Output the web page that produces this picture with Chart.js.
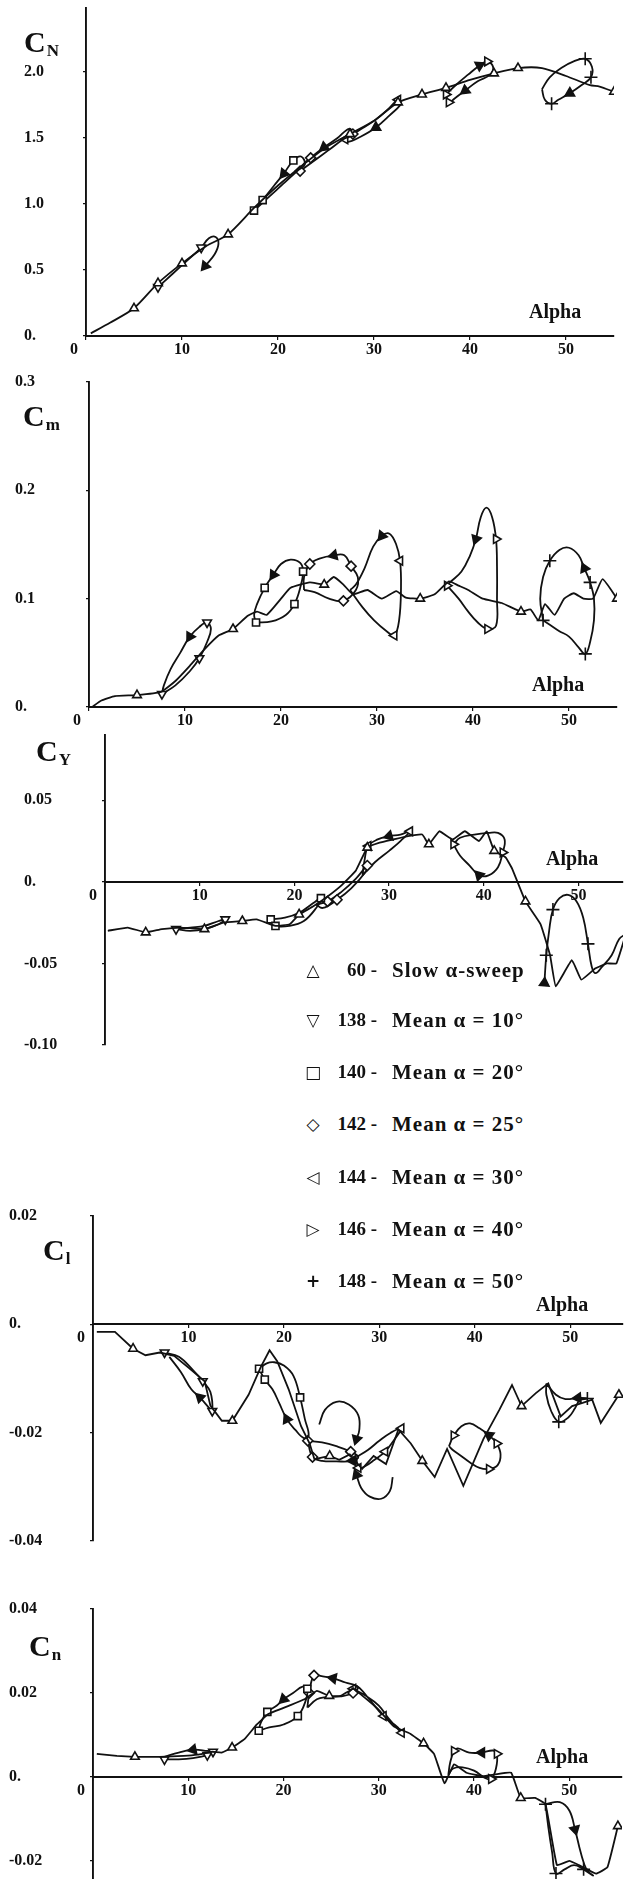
<!DOCTYPE html>
<html><head><meta charset="utf-8">
<script src="https://cdn.jsdelivr.net/npm/chart.js@4.4.1/dist/chart.umd.min.js"></script>
<style>
html,body{margin:0;padding:0;background:#fff;}
body{width:630px;height:1879px;position:relative;overflow:hidden;font-family:'Liberation Serif','Times New Roman',serif;color:#111;}
canvas{position:absolute;left:0;}
.t{position:absolute;font-weight:bold;line-height:1;white-space:nowrap;}
.coef{font-size:30px;}
.coef span{font-size:17px;position:relative;top:4px;margin-left:1px;}
.alpha{font-size:20px;}
.leg{position:absolute;left:0;width:630px;height:24px;line-height:24px;font-weight:bold;font-size:19px;white-space:nowrap;}
.leg .sym{position:absolute;left:300px;width:26px;text-align:center;font-family:'DejaVu Sans';font-size:17px;}
.leg .num{position:absolute;left:320px;width:57px;text-align:right;}
.leg .txt{position:absolute;left:392px;letter-spacing:1px;font-size:21px;}
</style></head>
<body>
<canvas id="p1"></canvas><canvas id="p2"></canvas><canvas id="p3"></canvas><canvas id="p4"></canvas><canvas id="p5"></canvas>

<div class="t coef" style="left:24px;top:27px">C<span>N</span></div>
<div class="t coef" style="left:23px;top:401px">C<span>m</span></div>
<div class="t coef" style="left:36px;top:736px">C<span>Y</span></div>
<div class="t coef" style="left:43px;top:1235px">C<span>l</span></div>
<div class="t coef" style="left:29px;top:1631px">C<span>n</span></div>

<div class="t alpha" style="left:529px;top:301px">Alpha</div>
<div class="t alpha" style="left:532px;top:674px">Alpha</div>
<div class="t alpha" style="left:546px;top:848px">Alpha</div>
<div class="t alpha" style="left:536px;top:1294px">Alpha</div>
<div class="t alpha" style="left:536px;top:1746px">Alpha</div>

<div id="legend"></div>

<script>
// ---------------- tick values and labels ----------------
const ALPHA_TICKS  = [0, 10, 20, 30, 40, 50];
const ALPHA_LABELS = ['0', '10', '20', '30', '40', '50'];

const NORMAL_YTICKS = [0, 0.5, 1.0, 1.5, 2.0];
const NORMAL_YLABELS = ['0.', '0.5', '1.0', '1.5', '2.0'];
const PITCH_YTICKS = [0, 0.1, 0.2, 0.3];
const PITCH_YLABELS = ['0.', '0.1', '0.2', '0.3'];
const SIDE_YTICKS = [-0.10, -0.05, 0, 0.05];
const SIDE_YLABELS = ['-0.10', '-0.05', '0.', '0.05'];
const ROLL_YTICKS = [-0.04, -0.02, 0, 0.02];
const ROLL_YLABELS = ['-0.04', '-0.02', '0.', '0.02'];
const YAW_YTICKS = [-0.02, 0, 0.02, 0.04];
const YAW_YLABELS = ['-0.02', '0.', '0.02', '0.04'];

// ---------------- legend ----------------
const RUNS = ['60', '138', '140', '142', '144', '146', '148'];
const RUN_TEXT = ['Slow α-sweep', 'Mean α = 10°', 'Mean α = 20°', 'Mean α = 25°', 'Mean α = 30°', 'Mean α = 40°', 'Mean α = 50°'];

// ---------------- C_N (normal force) [alpha, value] ----------------
const NORMAL_60 = [[0.5,0.02],[2.5,0.1],[5,0.21],[7.5,0.4],[10,0.55],[12.5,0.68],[14.8,0.77],[17.5,0.97],[20,1.14],[22.5,1.29],[25,1.43],[27.5,1.53],[30,1.63],[32.5,1.77],[35,1.83],[37.5,1.88],[40,1.94],[42.5,1.99],[45,2.03],[47.5,2.03],[50,1.97],[52.5,1.9],[53.5,1.89],[55,1.85]];
const NORMAL_60_MARKS = [2,3,4,6,11,13,14,15,17,18,23];
const NORMAL_138 = [[7.5,0.37],[9,0.47],[10.5,0.57],[12,0.67],[12.8,0.74],[13.5,0.75],[13.8,0.7],[13.4,0.62],[12.4,0.53]];
const NORMAL_138_MARKS = [0,3];
const NORMAL_138_ARROWS = [8];
const NORMAL_140 = [[17.5,0.95],[19,1.05],[20.5,1.15],[22,1.25],[22.8,1.3],[22.4,1.36],[21.6,1.33],[20.6,1.23],[19.6,1.14],[18.4,1.03],[17.5,0.95]];
const NORMAL_140_MARKS = [0,6,9];
const NORMAL_140_ARROWS = [7];
const NORMAL_142 = [[22.3,1.25],[23.8,1.33],[25.3,1.41],[26.8,1.49],[27.8,1.53],[27.4,1.57],[26.2,1.5],[24.8,1.43],[23.4,1.35],[22.5,1.29],[22.3,1.25]];
const NORMAL_142_MARKS = [0,4,8];
const NORMAL_142_ARROWS = [7];
const NORMAL_144 = [[27,1.49],[28.5,1.56],[30,1.63],[31.5,1.72],[32.5,1.79],[32.8,1.76],[31.6,1.67],[30.2,1.58],[28.6,1.51],[27.3,1.47],[27,1.49]];
const NORMAL_144_MARKS = [0,4];
const NORMAL_144_ARROWS = [7];
const NORMAL_146 = [[37.5,1.83],[38.5,1.9],[39.8,1.98],[41,2.05],[41.8,2.08],[42.4,2.04],[42.1,1.98],[40.8,1.93],[39.5,1.86],[38.4,1.8],[37.8,1.77],[37.5,1.83]];
const NORMAL_146_MARKS = [0,4,10];
const NORMAL_146_ARROWS = [3,8];
const NORMAL_148 = [[47.5,1.87],[48.3,1.96],[49.5,2.03],[50.8,2.08],[52,2.1],[52.7,2.04],[52.6,1.96],[51.6,1.9],[50.4,1.84],[49.2,1.79],[48.5,1.76],[47.8,1.79],[47.5,1.87]];
const NORMAL_148_MARKS = [4,6,10];
const NORMAL_148_ARROWS = [8];

// ---------------- C_m (pitching moment) ----------------
const PITCH_60 = [[0.3,0],[1.3,0.006],[2.7,0.01],[5,0.011],[7.5,0.014],[9,0.024],[10.5,0.038],[12,0.053],[13.5,0.066],[15,0.072],[16.5,0.084],[17.5,0.088],[18.5,0.085],[20,0.1],[21,0.11],[23,0.115],[24.5,0.113],[25.5,0.12],[26.5,0.113],[27.5,0.104],[29,0.108],[30.5,0.1],[32,0.107],[33,0.101],[34.5,0.1],[36,0.104],[37.5,0.116],[38.5,0.112],[39.5,0.108],[41,0.1],[43,0.096],[45,0.088],[46,0.09],[46.8,0.08],[47.5,0.095],[48.5,0.085],[49.5,0.1],[50.5,0.105],[51.5,0.1],[52.5,0.1],[53.5,0.118],[55,0.1]];
const PITCH_60_MARKS = [3,9,16,24,31,41];
const PITCH_138 = [[7.6,0.012],[9,0.02],[10.5,0.033],[11.5,0.045],[12.3,0.06],[12.7,0.072],[12.3,0.078],[11.5,0.074],[10.5,0.065],[9.5,0.05],[8.5,0.035],[7.8,0.02],[7.6,0.012]];
const PITCH_138_MARKS = [0,3,6];
const PITCH_138_ARROWS = [8];
const PITCH_140 = [[17.4,0.078],[19,0.079],[20.5,0.085],[21.4,0.095],[22,0.11],[22.3,0.125],[22,0.133],[21,0.136],[20,0.132],[19.2,0.122],[18.3,0.11],[17.5,0.095],[17.2,0.085],[17.4,0.078]];
const PITCH_140_MARKS = [0,3,5,10];
const PITCH_140_ARROWS = [9];
const PITCH_142 = [[22.4,0.108],[23.5,0.106],[25,0.1],[26.5,0.098],[27.8,0.108],[28,0.12],[27.3,0.13],[26.6,0.14],[25.5,0.14],[24,0.137],[23,0.132],[22.4,0.12],[22.4,0.108]];
const PITCH_142_MARKS = [3,6,10];
const PITCH_142_ARROWS = [8];
const PITCH_144 = [[27.2,0.108],[28.5,0.092],[29.7,0.08],[31,0.07],[31.8,0.066],[32.3,0.08],[32.5,0.11],[32.4,0.135],[32,0.15],[31.3,0.16],[30.5,0.158],[29.6,0.148],[28.7,0.128],[27.8,0.113],[27.2,0.108]];
const PITCH_144_MARKS = [4,7];
const PITCH_144_ARROWS = [10];
const PITCH_146 = [[37.3,0.112],[38.5,0.1],[39.5,0.088],[40.5,0.078],[41.5,0.072],[42.4,0.075],[42.5,0.1],[42.5,0.13],[42.4,0.155],[42,0.175],[41.4,0.184],[40.8,0.175],[40.3,0.155],[39.7,0.14],[38.8,0.125],[37.6,0.115],[37.3,0.112]];
const PITCH_146_MARKS = [0,4,8];
const PITCH_146_ARROWS = [12];
const PITCH_148 = [[47.3,0.08],[48,0.076],[49,0.07],[50,0.065],[51,0.055],[51.7,0.049],[52.2,0.06],[52.6,0.08],[52.6,0.1],[52.2,0.115],[51.6,0.128],[51,0.14],[50,0.147],[49,0.145],[48,0.135],[47.3,0.12],[47,0.1],[47.3,0.08]];
const PITCH_148_MARKS = [0,5,9,14];
const PITCH_148_ARROWS = [10];

// ---------------- C_Y (side force) ----------------
const SIDE_60 = [[0.3,-0.03],[2.4,-0.028],[4.3,-0.031],[6,-0.029],[8,-0.028],[10.5,-0.029],[12.5,-0.025],[14.5,-0.024],[16,-0.023],[18,-0.027],[19.5,-0.026],[20.5,-0.02],[22,-0.015],[23.5,-0.009],[25,-0.002],[26.5,0.007],[27.7,0.021],[29,0.024],[30.5,0.026],[32,0.028],[33.5,0.029],[34.2,0.023],[35.3,0.031],[36.7,0.026],[38,0.031],[39.5,0.025],[40.3,0.031],[41.1,0.019],[42.3,0.015],[43,0.008],[44.4,-0.012],[46,-0.026],[47,-0.045],[47.6,-0.064],[49.3,-0.048],[50.3,-0.06],[51.8,-0.053],[53,-0.05],[54,-0.05],[55,-0.032]];
const SIDE_60_MARKS = [2,5,7,11,16,21,27,30];
const SIDE_138 = [[7.5,-0.029],[9,-0.028],[10.5,-0.027],[12,-0.024],[12.7,-0.023],[12,-0.026],[10.5,-0.029],[9,-0.03],[7.5,-0.029]];
const SIDE_138_MARKS = [0,4];
const SIDE_140 = [[17.5,-0.023],[19,-0.022],[20.5,-0.019],[22,-0.013],[22.8,-0.01],[22.3,-0.016],[21,-0.024],[19.5,-0.027],[18,-0.027],[17.5,-0.023]];
const SIDE_140_MARKS = [0,4,8];
const SIDE_142 = [[22.3,-0.014],[23.5,-0.012],[25,-0.006],[26.5,0.002],[27.7,0.01],[27.5,0.006],[26,-0.004],[24.5,-0.011],[23,-0.016],[22.3,-0.014]];
const SIDE_142_MARKS = [1,4,7];
const SIDE_144 = [[27.2,0.004],[28.5,0.012],[30,0.019],[31.2,0.025],[32.2,0.031],[31.2,0.029],[30,0.028],[28.8,0.026],[27.8,0.022],[27.4,0.013],[27.2,0.004]];
const SIDE_144_MARKS = [4,8];
const SIDE_144_ARROWS = [6];
const SIDE_146 = [[36.8,0.023],[37.5,0.027],[39,0.029],[40.5,0.03],[41.5,0.03],[42.2,0.026],[42,0.018],[41.5,0.009],[40.5,0.004],[39.5,0.004],[38.5,0.01],[37.5,0.016],[36.8,0.023]];
const SIDE_146_MARKS = [0,6];
const SIDE_146_ARROWS = [9];
const SIDE_148 = [[46.4,-0.062],[46.6,-0.045],[46.9,-0.03],[47.3,-0.017],[48,-0.01],[48.9,-0.008],[49.8,-0.012],[50.5,-0.022],[51,-0.038],[51.4,-0.052],[51.8,-0.056],[52.5,-0.052],[53.5,-0.045],[54.3,-0.035],[55,-0.032]];
const SIDE_148_MARKS = [1,3,8];
const SIDE_148_ARROWS = [0];

// ---------------- C_l (rolling moment) ----------------
const ROLL_60 = [[0.4,-0.0014],[2.3,-0.0014],[4.2,-0.0045],[5.5,-0.0057],[7,-0.0052],[8.5,-0.0058],[10,-0.008],[11.7,-0.0105],[12.3,-0.015],[13.5,-0.0178],[14.6,-0.0178],[16.3,-0.013],[17.6,-0.0078],[18.5,-0.0048],[19.3,-0.0068],[20.5,-0.012],[21.8,-0.0188],[22.7,-0.022],[23.2,-0.0249],[24.8,-0.0243],[25.8,-0.025],[26.9,-0.024],[28.2,-0.0267],[29.4,-0.0243],[30.7,-0.0258],[32,-0.0194],[33.3,-0.022],[34.5,-0.0252],[35.8,-0.0282],[37.1,-0.023],[38.8,-0.0298],[40.9,-0.0212],[42.6,-0.0157],[43.9,-0.0112],[44.9,-0.0151],[46.4,-0.0127],[47.7,-0.0109],[49,-0.017],[50.2,-0.0151],[51.3,-0.0145],[52.3,-0.0139],[53.2,-0.0182],[55.1,-0.013]];
const ROLL_60_MARKS = [2,10,19,27,34,42];
const ROLL_138 = [[7.5,-0.0052],[9,-0.006],[10.5,-0.0085],[11.5,-0.0105],[12.3,-0.0125],[12.5,-0.016],[12.2,-0.0155],[11.2,-0.0135],[10.3,-0.012],[9.2,-0.0088],[8,-0.006]];
const ROLL_138_MARKS = [0,3,5];
const ROLL_138_ARROWS = [7];
const ROLL_140 = [[17.4,-0.0082],[18.2,-0.0072],[19,-0.007],[20,-0.0076],[21,-0.0095],[21.7,-0.0135],[22.2,-0.0175],[22.6,-0.0205],[22.1,-0.021],[21.2,-0.0195],[20.3,-0.0175],[19.5,-0.0145],[18.8,-0.012],[18,-0.0102],[17.4,-0.0082]];
const ROLL_140_MARKS = [0,5,13];
const ROLL_140_ARROWS = [10];
const ROLL_142 = [[22.5,-0.0215],[24,-0.0218],[25.5,-0.0225],[27,-0.0235],[27.8,-0.0245],[27.2,-0.0252],[25.5,-0.0253],[24,-0.0252],[23,-0.0245],[22.5,-0.0215]];
const ROLL_142_MARKS = [0,3,8];
const ROLL_142_ARROWS = [5];
const ROLL_144 = [[27.6,-0.0245],[28.8,-0.0232],[30,-0.0215],[31.2,-0.02],[32.3,-0.0192],[31.6,-0.0212],[30.6,-0.0235],[29.5,-0.025],[28.5,-0.0262],[27.8,-0.0265],[27.6,-0.0245]];
const ROLL_144_MARKS = [4,6,9];
const ROLL_146 = [[37.3,-0.0225],[37.7,-0.0232],[38.5,-0.0242],[39.5,-0.0255],[40.5,-0.0265],[41.5,-0.0267],[42.4,-0.026],[42.7,-0.024],[42.3,-0.022],[41.5,-0.0205],[40.5,-0.0192],[39.5,-0.0183],[38.6,-0.0188],[37.8,-0.0205],[37.3,-0.0225]];
const ROLL_146_MARKS = [5,8,13];
const ROLL_146_ARROWS = [9];
const ROLL_148 = [[47.5,-0.0109],[47.5,-0.013],[48,-0.016],[48.8,-0.018],[49.8,-0.0172],[50.5,-0.0155],[51,-0.014],[51.8,-0.0137],[50.8,-0.0136],[49.5,-0.0138],[48.5,-0.013],[47.5,-0.0109]];
const ROLL_148_MARKS = [3,7];
const ROLL_148_ARROWS = [8];
const ROLL_CURL_UP = [[23.7,-0.0185],[24.3,-0.0158],[25.5,-0.0143],[26.8,-0.0148],[27.8,-0.0168],[27.9,-0.0195],[27.6,-0.0212]];
const ROLL_CURL_DOWN = [[31.4,-0.0282],[31.1,-0.0308],[30.2,-0.0322],[29,-0.0318],[28.1,-0.0302],[27.6,-0.0278]];

// ---------------- C_n (yawing moment) ----------------
const YAW_60 = [[0.4,0.0055],[2.5,0.005],[4.4,0.0048],[7,0.0048],[9.5,0.005],[11,0.0053],[12.5,0.006],[13.5,0.0058],[14.6,0.007],[15.9,0.009],[17.2,0.0125],[18.4,0.015],[20.6,0.017],[22.2,0.0185],[23.5,0.0205],[24.8,0.0193],[26,0.0193],[27.3,0.021],[28.2,0.0195],[29.9,0.0162],[31.6,0.012],[33.3,0.0103],[34.7,0.008],[35.8,0.0055],[36.9,-0.0015],[37.9,0.003],[39.2,0.001],[40.9,0.0002],[42.2,0.0006],[43.9,0.001],[44.9,-0.005],[46.4,-0.005],[47.5,-0.0065],[48.7,-0.021],[50,-0.02],[51,-0.021],[52.8,-0.023],[54,-0.0215],[55.1,-0.0117]];
const YAW_60_MARKS = [2,8,15,22,30,38];
const YAW_138 = [[7.5,0.0042],[9,0.0042],[10.5,0.0045],[12,0.0052],[12.6,0.006],[12,0.0062],[10.5,0.0065],[9,0.0058],[7.5,0.0048]];
const YAW_138_MARKS = [0,3,4];
const YAW_138_ARROWS = [6];
const YAW_140 = [[17.4,0.011],[18.5,0.0118],[20,0.0125],[21.5,0.0145],[22.3,0.018],[22.5,0.021],[22,0.0215],[21,0.02],[20,0.0185],[19.3,0.017],[18.3,0.0155],[17.6,0.0128],[17.4,0.011]];
const YAW_140_MARKS = [0,3,5,10];
const YAW_140_ARROWS = [8];
const YAW_142 = [[22.5,0.0165],[23.5,0.0185],[24.5,0.019],[26,0.0192],[27.3,0.02],[27.8,0.0215],[26.5,0.0225],[25.2,0.0235],[24,0.024],[23.2,0.0242],[22.7,0.02],[22.5,0.0165]];
const YAW_142_MARKS = [4,9,10];
const YAW_142_ARROWS = [7];
const YAW_144 = [[27.3,0.021],[28.5,0.0195],[30,0.017],[31,0.014],[32.4,0.0105],[32,0.0118],[30.5,0.0145],[29,0.0185],[27.8,0.0215],[27.3,0.021]];
const YAW_144_MARKS = [0,4,6];
const YAW_146 = [[37.3,0.0005],[37.8,0.002],[38.8,0.0023],[40,0.0015],[41.2,-0.0003],[41.8,-0.0005],[42.3,0.002],[42.4,0.0055],[42,0.0063],[40.8,0.0058],[39.5,0.0058],[38.3,0.0068],[37.9,0.0062],[37.5,0.0035],[37.3,0.0005]];
const YAW_146_MARKS = [5,7,12];
const YAW_146_ARROWS = [9];
const YAW_148 = [[47.5,-0.0065],[49,-0.006],[50,-0.008],[50.6,-0.0125],[51.2,-0.018],[51.8,-0.022],[52.5,-0.0235],[51.5,-0.022],[50.5,-0.021],[49.5,-0.022],[48.6,-0.023],[48.2,-0.018],[47.8,-0.012],[47.5,-0.0065]];
const YAW_148_MARKS = [0,7,10];
const YAW_148_ARROWS = [3];

// ---------------- styling ----------------
const INK = '#111';
const MARKER = {
  '60':  {shape:'triangle', rot:0,   r:5},
  '138': {shape:'triangle', rot:180, r:5},
  '140': {shape:'rect',     rot:0,   r:5},
  '142': {shape:'rectRot',  rot:0,   r:5},
  '144': {shape:'triangle', rot:-90, r:5},
  '146': {shape:'triangle', rot:90,  r:5},
  '148': {shape:'cross',    rot:0,   r:6.5},
  'none':{shape:'circle',   rot:0,   r:0}
};

function heading(pts, i, px) {
  const n = pts.length;
  const a = i < n - 1 ? i : i - 1, b = a + 1;
  const dx = (pts[b][0] - pts[a][0]) * px.x;
  const dy = -(pts[b][1] - pts[a][1]) * px.y;
  return Math.atan2(dy, dx) * 180 / Math.PI + 90;
}

function series(pts, run, marks, arrows, tension, px) {
  const st = MARKER[run];
  const isArrow = i => arrows.includes(i);
  return {
    data: pts.map(p => ({x: p[0], y: p[1]})),
    showLine: true,
    tension: tension,
    borderColor: INK,
    borderWidth: 1.8,
    pointStyle: c => isArrow(c.dataIndex) ? 'triangle' : st.shape,
    pointRadius: c => isArrow(c.dataIndex) ? 5.5 : (marks.includes(c.dataIndex) ? st.r : 0),
    pointRotation: c => isArrow(c.dataIndex) ? heading(pts, c.dataIndex, px) : st.rot,
    pointBackgroundColor: c => isArrow(c.dataIndex) ? INK : '#fff',
    pointBorderColor: INK,
    pointBorderWidth: 1.6,
    pointHoverRadius: 0
  };
}

function panel(cfg) {
  const a = cfg.area;
  const cv = document.getElementById(cfg.id);
  cv.width = 630;
  cv.height = a.bottom - a.top + 60;
  cv.style.top = (a.top - 30) + 'px';
  const px = {x: (a.right - a.left) / cfg.xMax, y: (a.bottom - a.top) / (cfg.yMax - cfg.yMin)};
  const datasets = cfg.series.map(s => series(s[0], s[1], s[2], s[3], s[4], px));
  const tickFont = {family: "'Liberation Serif', serif", weight: 'bold', size: 16};
  new Chart(cv, {
    type: 'scatter',
    data: {datasets},
    options: {
      responsive: false, animation: false, devicePixelRatio: 1, events: [],
      layout: {padding: {left: cfg.labelLeft, right: 630 - a.right, top: 30, bottom: 30}},
      plugins: {legend: {display: false}, tooltip: {enabled: false}},
      scales: {
        x: {
          axis: 'x', type: 'linear', min: 0, max: cfg.xMax, position: {y: 0},
          afterBuildTicks: s => { s.ticks = ALPHA_TICKS.map(v => ({value: v})); },
          ticks: {autoSkip: false, maxRotation: 0, padding: 1, color: INK,
                  font: {family: "'Liberation Serif', serif", weight: 'bold', size: 16},
                  callback: (v, i) => i === 0 ? ALPHA_LABELS[0] + '      ' : ALPHA_LABELS[i]},
          grid: {drawOnChartArea: false, drawTicks: true, tickLength: 3, color: INK, lineWidth: 1.2},
          border: {display: true, color: INK, width: 1.9}
        },
        y: {
          axis: 'y', type: 'linear', position: 'left', min: cfg.yMin, max: cfg.yMax,
          afterFit: s => { s.width = a.left - cfg.labelLeft; },
          afterBuildTicks: s => { s.ticks = cfg.yTicks.map(v => ({value: v})); },
          ticks: {autoSkip: false, crossAlign: 'far', color: INK, font: tickFont,
                  callback: (v, i) => cfg.yLabels[i]},
          grid: {drawOnChartArea: false, drawTicks: true, tickLength: 3, color: INK, lineWidth: 1.2},
          border: {display: true, color: INK, width: 1.9}
        }
      }
    }
  });
}

panel({id:'p1', area:{left:86, right:614, top:8, bottom:336}, labelLeft:24, xMax:55, yMin:0, yMax:2.485,
  yTicks:NORMAL_YTICKS, yLabels:NORMAL_YLABELS, series:[
    [NORMAL_60,'60',NORMAL_60_MARKS,[],0.25],
    [NORMAL_138,'138',NORMAL_138_MARKS,NORMAL_138_ARROWS,0.4],
    [NORMAL_140,'140',NORMAL_140_MARKS,NORMAL_140_ARROWS,0.4],
    [NORMAL_142,'142',NORMAL_142_MARKS,NORMAL_142_ARROWS,0.4],
    [NORMAL_144,'144',NORMAL_144_MARKS,NORMAL_144_ARROWS,0.4],
    [NORMAL_146,'146',NORMAL_146_MARKS,NORMAL_146_ARROWS,0.4],
    [NORMAL_148,'148',NORMAL_148_MARKS,NORMAL_148_ARROWS,0.4]]});

panel({id:'p2', area:{left:89, right:617, top:382, bottom:707}, labelLeft:15, xMax:55, yMin:0, yMax:0.3,
  yTicks:PITCH_YTICKS, yLabels:PITCH_YLABELS, series:[
    [PITCH_60,'60',PITCH_60_MARKS,[],0.15],
    [PITCH_138,'138',PITCH_138_MARKS,PITCH_138_ARROWS,0.4],
    [PITCH_140,'140',PITCH_140_MARKS,PITCH_140_ARROWS,0.4],
    [PITCH_142,'142',PITCH_142_MARKS,PITCH_142_ARROWS,0.4],
    [PITCH_144,'144',PITCH_144_MARKS,PITCH_144_ARROWS,0.4],
    [PITCH_146,'146',PITCH_146_MARKS,PITCH_146_ARROWS,0.4],
    [PITCH_148,'148',PITCH_148_MARKS,PITCH_148_ARROWS,0.4]]});

panel({id:'p3', area:{left:105, right:630, top:735, bottom:1045}, labelLeft:24, xMax:54.69, yMin:-0.1, yMax:0.09,
  yTicks:SIDE_YTICKS, yLabels:SIDE_YLABELS, series:[
    [SIDE_60,'60',SIDE_60_MARKS,[],0.1],
    [SIDE_138,'138',SIDE_138_MARKS,[],0.4],
    [SIDE_140,'140',SIDE_140_MARKS,[],0.4],
    [SIDE_142,'142',SIDE_142_MARKS,[],0.4],
    [SIDE_144,'144',SIDE_144_MARKS,SIDE_144_ARROWS,0.4],
    [SIDE_146,'146',SIDE_146_MARKS,SIDE_146_ARROWS,0.4],
    [SIDE_148,'148',SIDE_148_MARKS,SIDE_148_ARROWS,0.4]]});

panel({id:'p4', area:{left:93, right:626, top:1216, bottom:1541}, labelLeft:9, xMax:55.52, yMin:-0.04, yMax:0.02,
  yTicks:ROLL_YTICKS, yLabels:ROLL_YLABELS, series:[
    [ROLL_60,'60',ROLL_60_MARKS,[],0],
    [ROLL_138,'138',ROLL_138_MARKS,ROLL_138_ARROWS,0.4],
    [ROLL_140,'140',ROLL_140_MARKS,ROLL_140_ARROWS,0.4],
    [ROLL_142,'142',ROLL_142_MARKS,ROLL_142_ARROWS,0.4],
    [ROLL_144,'144',ROLL_144_MARKS,[],0.4],
    [ROLL_146,'146',ROLL_146_MARKS,ROLL_146_ARROWS,0.4],
    [ROLL_148,'148',ROLL_148_MARKS,ROLL_148_ARROWS,0.4],
    [ROLL_CURL_UP,'none',[],[6],0.4],
    [ROLL_CURL_DOWN,'none',[],[5],0.4]]});

panel({id:'p5', area:{left:93, right:626, top:1609, bottom:1879}, labelLeft:9, xMax:55.52, yMin:-0.0243, yMax:0.04,
  yTicks:YAW_YTICKS, yLabels:YAW_YLABELS, series:[
    [YAW_60,'60',YAW_60_MARKS,[],0.1],
    [YAW_138,'138',YAW_138_MARKS,YAW_138_ARROWS,0.4],
    [YAW_140,'140',YAW_140_MARKS,YAW_140_ARROWS,0.4],
    [YAW_142,'142',YAW_142_MARKS,YAW_142_ARROWS,0.4],
    [YAW_144,'144',YAW_144_MARKS,[],0.4],
    [YAW_146,'146',YAW_146_MARKS,YAW_146_ARROWS,0.4],
    [YAW_148,'148',YAW_148_MARKS,YAW_148_ARROWS,0.4]]});

// legend (text block)
const LEG_SYM = {'60':'△','138':'▽','140':'□','142':'◇','144':'◁','146':'▷','148':'+'};
const LEG_Y = [970, 1020, 1072, 1124, 1177, 1229, 1281];
const legend = document.getElementById('legend');
RUNS.forEach((r, i) => {
  const row = document.createElement('div');
  row.className = 'leg';
  row.style.top = (LEG_Y[i] - 12) + 'px';
  row.innerHTML = '<span class="sym">' + LEG_SYM[r] + '</span><span class="num">' + r + ' -</span><span class="txt">' + RUN_TEXT[i] + '</span>';
  legend.appendChild(row);
});
</script>
</body></html>
